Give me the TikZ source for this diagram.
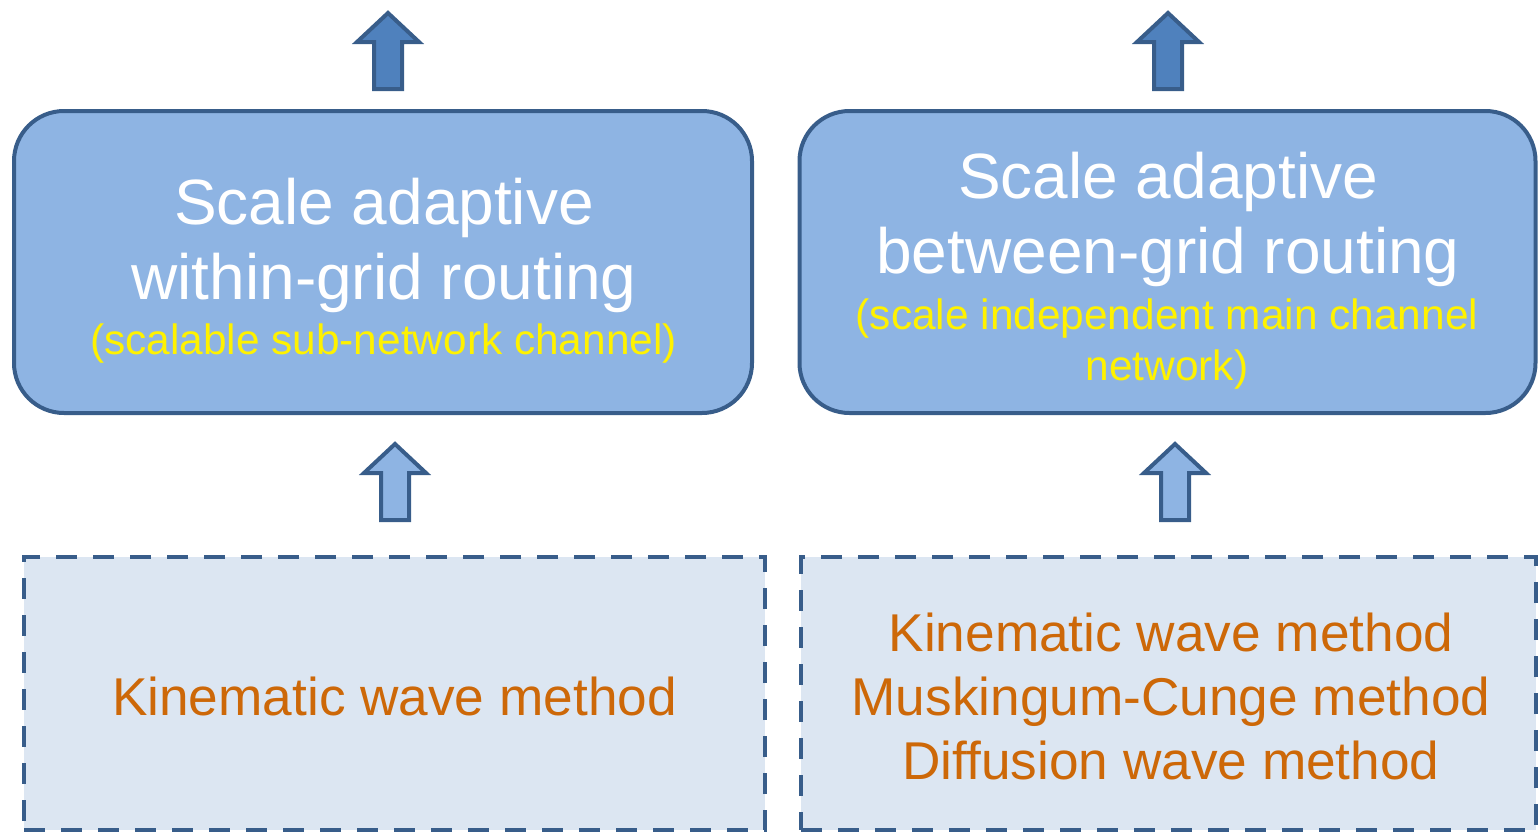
\documentclass[tikz,border=0pt]{standalone}
\usepackage{fontspec}
\setmainfont{Liberation Sans}
\usetikzlibrary{positioning}
\definecolor{bf}{RGB}{142,180,227}
\definecolor{bl}{RGB}{56,93,138}
\definecolor{df}{RGB}{220,230,242}
\definecolor{af}{RGB}{79,129,189}
\definecolor{oc}{RGB}{205,104,8}
\tikzset{grid/.style={draw=bl,fill=bf,line width=2pt,rounded corners=25pt,minimum width=368pt,minimum height=150pt,inner sep=0pt},
 meth/.style={draw=bl,fill=df,line width=2pt,dash pattern=on 10.5pt off 8pt,minimum height=136.5pt,inner sep=0pt},
 ttl/.style={text=white,align=center,font=\fontsize{32}{37.5}\selectfont,inner sep=0pt},
 sub/.style={text=yellow,align=center,font=\fontsize{21.2}{25.5}\selectfont,inner sep=0pt},
 mt/.style={text=oc,align=center,font=\fontsize{26.6}{32}\selectfont,inner sep=0pt},
 pics/uparr/.style={code={\filldraw[draw=bl,fill=#1,line width=2pt]
  (0,3)--(31,32)--(14,32)--(14,79)--(-14,79)--(-14,32)--(-31,32)--cycle;}}}
\begin{document}
\begin{tikzpicture}[x=.5pt,y=-.5pt]
\useasboundingbox (0,0) rectangle (1538,835);
% routing boxes
\node[grid,minimum width=369pt,minimum height=151pt] (wg) at (383,262) {};\node[grid,minimum width=368pt,minimum height=151pt] (bg) at (1167.5,262) {};
\node[ttl] (wgt) at (384,245.5) {Scale adaptive\\within-grid routing};
\node[sub] (wgs) at (383.5,344) {(scalable sub-network channel)};
\node[ttl] (bgt) at (1168,219.5) {Scale adaptive\\between-grid routing};
\node[sub] (bgs) at (1167,344.5) {(scale independent main channel\\network)};
% method boxes
\node[meth,minimum width=370.5pt] (wm) at (394.5,693.5) {};\node[meth,minimum width=367.5pt] (bm) at (1168.5,693.5) {};
\node[mt] (wmt) at (394.5,696) {Kinematic wave method};
\node[mt] (bmt) at (1171,696) {Kinematic wave method\\Muskingum-Cunge method\\Diffusion wave method};
% arrows
\pic at (388,10) {uparr=af};\pic at (1168,10) {uparr=af};
\pic at (395,441) {uparr=bf};\pic at (1175,441) {uparr=bf};
\end{tikzpicture}
\end{document}
